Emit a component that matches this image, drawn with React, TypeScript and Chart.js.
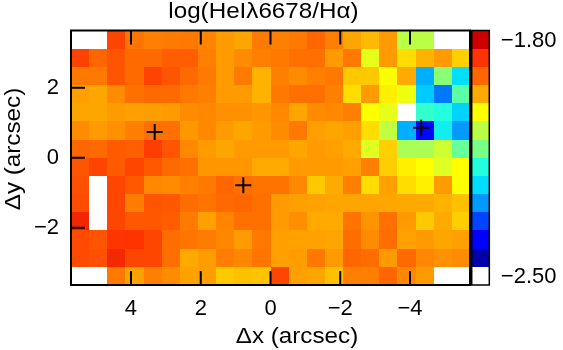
import { useEffect, useRef } from 'react';
import { Chart, registerables } from 'chart.js';

Chart.register(...registerables);

// ---- text ----
const TITLE = 'log(HeIλ6678/Hα)';
const X_TITLE = 'Δx (arcsec)';
const Y_TITLE = 'Δy (arcsec)';

// ---- grid geometry (arcsec) ----
const PIXEL = 0.52;
const NX = 22;
const NY = 14;
const X_MAX = (NX * PIXEL) / 2;
const Y_MAX = (NY * PIXEL) / 2;

// ---- ticks ----
const xTicks = [4, 2, 0, -2, -4];
const yTicks = [2, 0, -2];

// ---- colour bar ----
const cbMax = -1.8;
const cbMin = -2.5;
const cbLabels = ['−1.80', '−2.50'];
const cbColors = [
  '#CC0000', '#FF3300', '#FF6600', '#FFAA00', '#FFFF00', '#BBFF44', '#77FF88',
  '#22FFDD', '#00DDFF', '#0099FF', '#0044FF', '#0000FF', '#0000AA', '#FFFFFF',
];

// ---- log(HeI 6678 / Halpha), rows top (+y) to bottom, columns left (+x) to right ----
const row00 = [null, null, -1.892, -1.936, -1.944, -1.940, -1.938, -1.947, -1.963, -1.971, -1.940, -1.944, -1.938, -1.925, -1.944, -1.971, -1.984, -1.963, -2.075, -2.075, null, null];
const row01 = [-1.889, -1.925, -1.908, -1.928, -1.928, -1.916, -1.916, -1.944, -1.963, -1.953, -1.944, -1.938, -1.932, -1.932, -1.963, -1.938, -2.043, -1.963, -2.005, -1.980, -1.963, -1.997];
const row02 = [-1.938, -1.938, -1.908, -1.928, -1.892, -1.908, -1.928, -1.940, -1.963, -1.940, -1.980, -1.944, -1.953, -1.944, -1.938, -1.993, -1.993, -2.025, -1.975, -2.258, -2.112, -2.222];
const row03 = [-1.968, -1.971, -1.953, -1.932, -1.928, -1.928, -1.938, -1.944, -1.963, -1.963, -1.980, -1.938, -1.932, -1.932, -1.944, -2.005, -1.963, -2.016, -2.037, -2.238, -2.295, -2.142];
const row04 = [-1.971, -1.971, -1.963, -1.968, -1.966, -1.963, -1.953, -1.950, -1.956, -1.956, -1.960, -1.950, -1.971, -1.953, -1.950, -1.944, -2.025, -2.043, null, -2.165, -2.175, -2.232];
const row05 = [-1.953, -1.963, -1.956, -1.944, -1.932, -1.932, -1.961, -1.950, -1.963, -1.971, -1.963, -1.953, -1.938, -1.968, -1.971, -1.968, -2.005, -2.071, -2.258, -2.370, -2.200, -2.275];
const row06 = [-1.925, -1.928, -1.913, -1.918, -1.885, -1.908, -1.950, -1.963, -1.971, -1.963, -1.963, -1.963, -1.971, -1.963, -1.968, -1.975, -2.050, -1.997, -2.088, -2.088, -2.062, -2.135];
const row07 = [-1.908, -1.892, -1.913, -1.894, -1.911, -1.928, -1.932, -1.960, -1.960, -1.960, -1.975, -1.975, -1.963, -1.963, -1.963, -1.968, -1.944, -1.996, -2.016, -2.025, -2.050, -2.025];
const row08 = [-1.903, null, -1.894, -1.911, -1.950, -1.952, -1.944, -1.938, -1.925, -1.932, -1.935, -1.935, -1.950, -1.993, -1.975, -1.944, -2.005, -1.968, -2.005, -2.016, -1.963, -2.025];
const row09 = [-1.900, null, -1.894, -1.942, -1.908, -1.911, -1.930, -1.935, -1.927, -1.925, -1.932, -1.963, -1.968, -1.969, -1.971, -1.971, -1.971, -1.972, -1.974, -1.975, -1.980, -1.988];
const row10 = [-1.862, null, -1.894, -1.911, -1.911, -1.916, -1.940, -1.968, -1.947, -1.932, -1.932, -1.963, -1.955, -1.975, -1.975, -1.936, -1.958, -1.932, -1.963, -1.993, -1.975, -1.996];
const row11 = [-1.898, -1.908, -1.877, -1.875, -1.894, -1.930, -1.936, -1.941, -1.949, -1.963, -1.938, -1.967, -1.969, -1.969, -1.971, -1.930, -1.953, -1.930, -1.969, -1.963, -1.971, -1.968];
const row12 = [-1.898, -1.902, -1.865, -1.894, -1.894, -1.931, -1.975, -1.965, -1.942, -1.949, -1.936, -1.968, -1.965, -1.939, -1.963, -1.925, -1.930, -1.963, -1.928, -1.950, -1.956, -1.953];
const row13 = [null, null, -1.939, -1.969, -1.944, -1.953, -1.969, -1.966, -1.993, -1.988, -1.990, -1.894, -1.968, -1.971, -1.988, -1.944, -1.944, -1.925, -1.950, -1.963, null, null];
const ratioRows: (number | null)[][] = [row00, row01, row02, row03, row04, row05, row06, row07, row08, row09, row10, row11, row12, row13];

// ---- marked positions (+) ----
const markerX = [3.32, 0.78, -4.32];
const markerY = [0.74, -0.79, 0.86];

const FONT = '"Liberation Sans", Arial, sans-serif';

function hexToRgb(h: string) {
  const n = parseInt(h.slice(1), 16);
  return [(n >> 16) & 255, (n >> 8) & 255, n & 255];
}

function colorFor(v: number | null) {
  if (v === null || v === undefined) return '#ffffff';
  const n = cbColors.length - 1; // coloured blocks (last is white)
  const step = (cbMax - cbMin) / cbColors.length;
  let k = (cbMax - v) / step - 0.5;
  k = Math.max(0, Math.min(n - 1, k));
  const k0 = Math.floor(k);
  const k1 = Math.min(n - 1, k0 + 1);
  const f = k - k0;
  const a = hexToRgb(cbColors[k0]);
  const b = hexToRgb(cbColors[k1]);
  const c = a.map((ai, idx) => Math.round(ai + (b[idx] - ai) * f));
  return `rgb(${c[0]},${c[1]},${c[2]})`;
}

const fmt = (v: number) => (v < 0 ? '−' + Math.abs(v) : String(v));

function stretchedText(ctx: CanvasRenderingContext2D, text: string, cx: number, y: number, sx: number) {
  ctx.save();
  ctx.translate(cx, y);
  ctx.scale(sx, 1);
  ctx.fillText(text, 0, 0);
  ctx.restore();
}

const heatmapPlugin = {
  id: 'heatmap',
  beforeDatasetsDraw(chart: any) {
    const { ctx, chartArea: a, scales } = chart;
    const xs = scales.x;
    const ys = scales.y;
    const xEdges: number[] = [];
    for (let i = 0; i <= NX; i++) xEdges.push(Math.round(xs.getPixelForValue(X_MAX - i * PIXEL)));
    const yEdges: number[] = [];
    for (let j = 0; j <= NY; j++) yEdges.push(Math.round(ys.getPixelForValue(Y_MAX - j * PIXEL)));
    ctx.save();
    ctx.fillStyle = '#ffffff';
    ctx.fillRect(a.left, a.top, a.right - a.left, a.bottom - a.top);
    ratioRows.forEach((row, j) => {
      row.forEach((v, i) => {
        const l = Math.min(xEdges[i], xEdges[i + 1]);
        const r = Math.max(xEdges[i], xEdges[i + 1]);
        const t = Math.min(yEdges[j], yEdges[j + 1]);
        const b = Math.max(yEdges[j], yEdges[j + 1]);
        ctx.fillStyle = colorFor(v);
        ctx.fillRect(l, t, r - l, b - t);
      });
    });
    ctx.restore();
  },
  afterDraw(chart: any) {
    const { ctx, chartArea: a, scales } = chart;
    const xs = scales.x;
    const ys = scales.y;
    ctx.save();
    ctx.strokeStyle = '#000';
    ctx.lineWidth = 2;
    // inward ticks
    const TL = 14;
    ctx.beginPath();
    xTicks.forEach((v) => {
      const px = xs.getPixelForValue(v);
      ctx.moveTo(px, a.top);
      ctx.lineTo(px, a.top + TL);
      ctx.moveTo(px, a.bottom);
      ctx.lineTo(px, a.bottom - TL);
    });
    yTicks.forEach((v) => {
      const py = ys.getPixelForValue(v);
      ctx.moveTo(a.left, py);
      ctx.lineTo(a.left + TL, py);
    });
    ctx.stroke();
    // frame
    ctx.strokeRect(a.left, a.top, a.right - a.left, a.bottom - a.top);

    // colour bar
    const cbL = a.right + 1.7;
    const cbR = a.right + 19.3;
    const h = (a.bottom - a.top) / cbColors.length;
    cbColors.forEach((c, k) => {
      const t = Math.round(a.top + k * h);
      const b = Math.round(a.top + (k + 1) * h);
      ctx.fillStyle = c;
      ctx.fillRect(cbL, t, cbR - cbL, b - t);
    });
    ctx.lineWidth = 1.5;
    ctx.strokeRect(cbL, a.top, cbR - cbL, a.bottom - a.top);

    ctx.fillStyle = '#000';
    ctx.font = `22px ${FONT}`;
    ctx.textAlign = 'left';
    ctx.textBaseline = 'middle';
    ctx.fillText(cbLabels[0], cbR + 11.5, a.top + h / 2 + 1.5);
    ctx.fillText(cbLabels[1], cbR + 11.5, a.bottom - h / 2 + 1.5);

    // titles
    ctx.font = `22px ${FONT}`;
    ctx.textAlign = 'center';
    ctx.textBaseline = 'alphabetic';
    stretchedText(ctx, TITLE, 263.4, 18, 1.1);
    stretchedText(ctx, X_TITLE, 297, 343, 1.1);
    ctx.save();
    ctx.translate(19.5, 149);
    ctx.rotate(-Math.PI / 2);
    ctx.scale(1.1, 1);
    ctx.fillText(Y_TITLE, 0, 0);
    ctx.restore();
    ctx.restore();
  },
};

export default function App() {
  const ref = useRef<HTMLCanvasElement | null>(null);
  useEffect(() => {
    const canvas = ref.current;
    if (!canvas) return;
    const chart = new Chart(canvas, {
      type: 'scatter',
      data: {
        datasets: [
          {
            data: markerX.map((x, i) => ({ x, y: markerY[i] })),
            pointStyle: 'cross',
            pointRadius: 8,
            pointBorderWidth: 2,
            borderColor: '#000',
            backgroundColor: '#000',
            pointBorderColor: '#000',
          } as any,
        ],
      },
      options: {
        animation: false,
        responsive: false,
        devicePixelRatio: 1,
        events: [],
        layout: { padding: { top: 30.5, right: 93, bottom: 0, left: 0 } },
        plugins: { legend: { display: false }, tooltip: { enabled: false }, title: { display: false } },
        scales: {
          x: {
            type: 'linear',
            position: 'bottom',
            min: -X_MAX,
            max: X_MAX,
            reverse: true,
            grid: { display: false, drawTicks: false },
            border: { display: false },
            afterBuildTicks: (s: any) => {
              s.ticks = xTicks.map((value) => ({ value }));
            },
            afterFit: (s: any) => {
              s.height = 65;
            },
            ticks: {
              autoSkip: false,
              maxRotation: 0,
              minRotation: 0,
              padding: 11,
              color: '#000',
              font: { family: FONT, size: 22 },
              callback: (v: any) => fmt(Number(v)),
            },
          },
          y: {
            type: 'linear',
            position: 'left',
            min: -Y_MAX,
            max: Y_MAX,
            grid: { display: false, drawTicks: false },
            border: { display: false },
            afterBuildTicks: (s: any) => {
              s.ticks = yTicks.map((value) => ({ value }));
            },
            afterFit: (s: any) => {
              s.width = 71;
            },
            ticks: {
              autoSkip: false,
              padding: 12,
              color: '#000',
              font: { family: FONT, size: 22 },
              callback: (v: any) => fmt(Number(v)),
            },
          },
        },
      },
      plugins: [heatmapPlugin],
    });
    return () => chart.destroy();
  }, []);

  return (
    <div style={{ position: 'fixed', left: 0, top: 0, width: 563, height: 350, background: '#fff' }}>
      <canvas ref={ref} width={563} height={350} style={{ display: 'block', width: 563, height: 350 }} />
    </div>
  );
}
